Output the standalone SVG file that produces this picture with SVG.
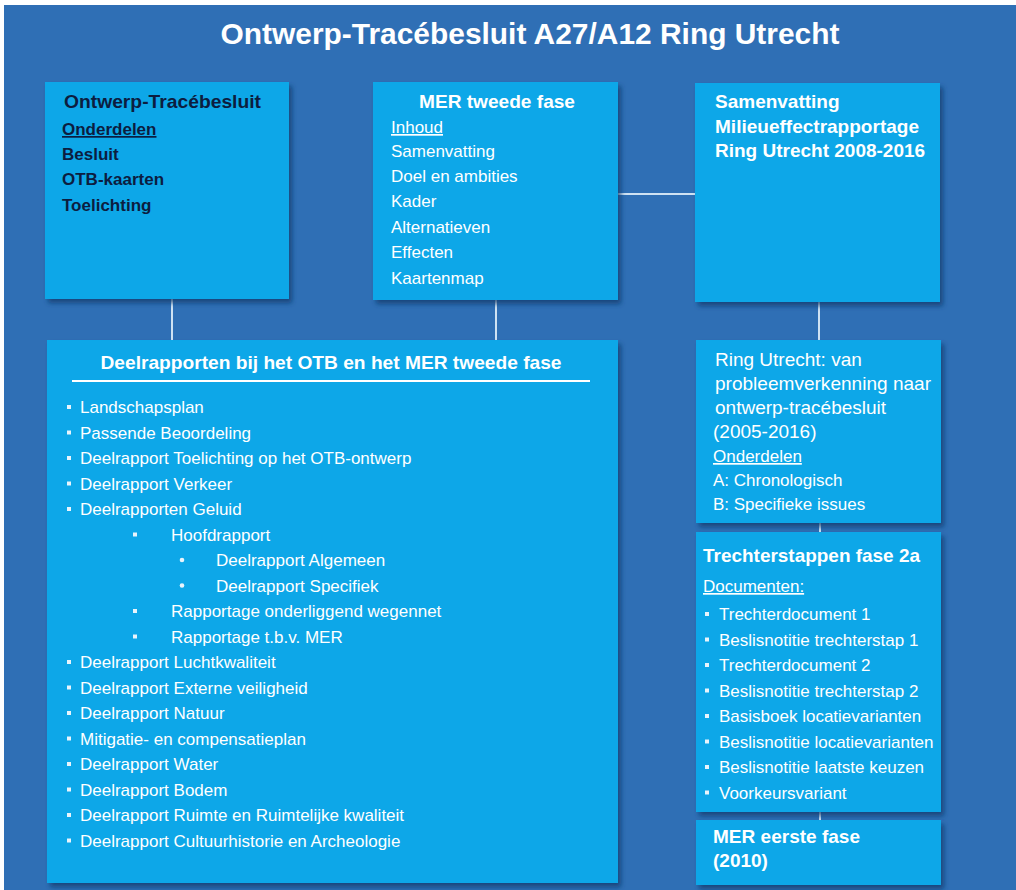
<svg xmlns="http://www.w3.org/2000/svg" width="1016" height="890" viewBox="0 0 1016 890">
<defs>
<filter id="sh" x="-10%" y="-10%" width="125%" height="125%">
<feDropShadow dx="3" dy="4" stdDeviation="2.5" flood-color="#123a6a" flood-opacity="0.75"/>
</filter>
</defs>
<style>
.box{fill:#07a7e8;filter:url(#sh)}
.t{font-family:"Liberation Sans",Arial,sans-serif;fill:#ffffff}
.r{font-size:17px}
.r19{font-size:19px}
.b{font-weight:bold}
.h{font-size:19px;font-weight:bold}
.dk{fill:#0c1d40}
.u{text-decoration:underline}
.con{stroke:#cfe2f3;stroke-width:2;fill:none}
.bul{fill:#e8f4fc}
</style>
<rect x="0" y="0" width="1016" height="890" fill="#ffffff"/>
<rect x="4" y="5" width="1012" height="885" fill="#2f6fb5"/>
<text class="t b" x="530" y="44" font-size="29.5" text-anchor="middle" textLength="619" lengthAdjust="spacingAndGlyphs">Ontwerp-Tracébesluit A27/A12 Ring Utrecht</text>

<g id="connectors">
<line class="con" x1="172" y1="299" x2="172" y2="340"/>
<line class="con" x1="496" y1="300" x2="496" y2="340"/>
<line class="con" x1="618" y1="194" x2="695" y2="194"/>
<line class="con" x1="819" y1="302" x2="819" y2="340"/>
<line class="con" x1="820" y1="523" x2="820" y2="532"/>
<line class="con" x1="820" y1="812" x2="820" y2="820"/>
</g>

<g id="otb">
<rect class="box" x="45" y="82" width="244" height="217"/>
<text class="t h dk" x="64" y="108" textLength="197" lengthAdjust="spacingAndGlyphs">Ontwerp-Tracébesluit</text>
<text class="t r b dk u" x="62" y="135">Onderdelen</text>
<text class="t r b dk" x="62" y="160">Besluit</text>
<text class="t r b dk" x="62" y="185">OTB-kaarten</text>
<text class="t r b dk" x="62" y="211">Toelichting</text>
</g>

<g id="mer2">
<rect class="box" x="373" y="82" width="245" height="218"/>
<text class="t h" x="497" y="108" text-anchor="middle" textLength="156" lengthAdjust="spacingAndGlyphs">MER tweede fase</text>
<text class="t r u" x="391" y="133">Inhoud</text>
<text class="t r" x="391" y="157">Samenvatting</text>
<text class="t r" x="391" y="182">Doel en ambities</text>
<text class="t r" x="391" y="207">Kader</text>
<text class="t r" x="391" y="233">Alternatieven</text>
<text class="t r" x="391" y="258">Effecten</text>
<text class="t r" x="391" y="284">Kaartenmap</text>
</g>

<g id="samenvatting">
<rect class="box" x="695" y="83" width="245" height="219"/>
<text class="t h" x="715" y="108">Samenvatting</text>
<text class="t h" x="715" y="133" textLength="204" lengthAdjust="spacingAndGlyphs">Milieueffectrapportage</text>
<text class="t h" x="715" y="157">Ring Utrecht 2008-2016</text>
</g>

<g id="deelrapporten">
<rect class="box" x="47" y="340" width="571" height="543"/>
<text class="t h" x="331" y="369" text-anchor="middle" textLength="461" lengthAdjust="spacingAndGlyphs">Deelrapporten bij het OTB en het MER tweede fase</text>
<line x1="72" y1="381" x2="590" y2="381" stroke="#ffffff" stroke-width="2"/>
<g class="bul">
<rect x="67" y="405" width="4" height="4"/>
<rect x="67" y="430.5" width="4" height="4"/>
<rect x="67" y="456" width="4" height="4"/>
<rect x="67" y="481.5" width="4" height="4"/>
<rect x="67" y="507" width="4" height="4"/>
<rect x="133" y="532.5" width="4" height="4"/>
<circle cx="182" cy="560" r="2.3"/>
<circle cx="182" cy="585.5" r="2.3"/>
<rect x="133" y="609" width="4" height="4"/>
<rect x="133" y="634.5" width="4" height="4"/>
<rect x="67" y="660" width="4" height="4"/>
<rect x="67" y="685.5" width="4" height="4"/>
<rect x="67" y="711" width="4" height="4"/>
<rect x="67" y="736.5" width="4" height="4"/>
<rect x="67" y="762" width="4" height="4"/>
<rect x="67" y="787.5" width="4" height="4"/>
<rect x="67" y="813" width="4" height="4"/>
<rect x="67" y="838.5" width="4" height="4"/>
</g>
<text class="t r" x="80" y="413">Landschapsplan</text>
<text class="t r" x="80" y="438.5">Passende Beoordeling</text>
<text class="t r" x="80" y="464">Deelrapport Toelichting op het OTB-ontwerp</text>
<text class="t r" x="80" y="489.5">Deelrapport Verkeer</text>
<text class="t r" x="80" y="515">Deelrapporten Geluid</text>
<text class="t r" x="171" y="540.5">Hoofdrapport</text>
<text class="t r" x="216" y="566">Deelrapport Algemeen</text>
<text class="t r" x="216" y="591.5">Deelrapport Specifiek</text>
<text class="t r" x="171" y="617">Rapportage onderliggend wegennet</text>
<text class="t r" x="171" y="642.5">Rapportage t.b.v. MER</text>
<text class="t r" x="80" y="668">Deelrapport Luchtkwaliteit</text>
<text class="t r" x="80" y="693.5">Deelrapport Externe veiligheid</text>
<text class="t r" x="80" y="719">Deelrapport Natuur</text>
<text class="t r" x="80" y="744.5">Mitigatie- en compensatieplan</text>
<text class="t r" x="80" y="770">Deelrapport Water</text>
<text class="t r" x="80" y="795.5">Deelrapport Bodem</text>
<text class="t r" x="80" y="821">Deelrapport Ruimte en Ruimtelijke kwaliteit</text>
<text class="t r" x="80" y="846.5">Deelrapport Cultuurhistorie en Archeologie</text>
</g>

<g id="ringutrecht">
<rect class="box" x="696" y="340" width="245" height="183"/>
<text class="t r19" x="715" y="366">Ring Utrecht: van</text>
<text class="t r19" x="715" y="390" textLength="216" lengthAdjust="spacingAndGlyphs">probleemverkenning naar</text>
<text class="t r19" x="715" y="414">ontwerp-tracébesluit</text>
<text class="t r19" x="713" y="438">(2005-2016)</text>
<text class="t r u" x="713" y="462">Onderdelen</text>
<text class="t r" x="713" y="486">A: Chronologisch</text>
<text class="t r" x="713" y="510">B: Specifieke issues</text>
</g>

<g id="trechterstappen">
<rect class="box" x="696" y="532" width="245" height="280"/>
<text class="t h" x="703" y="562" textLength="217" lengthAdjust="spacingAndGlyphs">Trechterstappen fase 2a</text>
<text class="t r u" x="703" y="592">Documenten:</text>
<g class="bul">
<rect x="705" y="612" width="4" height="4"/>
<rect x="705" y="637.5" width="4" height="4"/>
<rect x="705" y="663" width="4" height="4"/>
<rect x="705" y="688.5" width="4" height="4"/>
<rect x="705" y="714" width="4" height="4"/>
<rect x="705" y="739.5" width="4" height="4"/>
<rect x="705" y="765" width="4" height="4"/>
<rect x="705" y="790.5" width="4" height="4"/>
</g>
<text class="t r" x="719" y="620">Trechterdocument 1</text>
<text class="t r" x="719" y="645.5">Beslisnotitie trechterstap 1</text>
<text class="t r" x="719" y="671">Trechterdocument 2</text>
<text class="t r" x="719" y="696.5">Beslisnotitie trechterstap 2</text>
<text class="t r" x="719" y="722">Basisboek locatievarianten</text>
<text class="t r" x="719" y="747.5">Beslisnotitie locatievarianten</text>
<text class="t r" x="719" y="773">Beslisnotitie laatste keuzen</text>
<text class="t r" x="719" y="798.5">Voorkeursvariant</text>
</g>

<g id="mer1">
<rect class="box" x="696" y="820" width="245" height="65"/>
<text class="t h" x="713" y="843" textLength="147" lengthAdjust="spacingAndGlyphs">MER eerste fase</text>
<text class="t h" x="713" y="867">(2010)</text>
</g>
</svg>
